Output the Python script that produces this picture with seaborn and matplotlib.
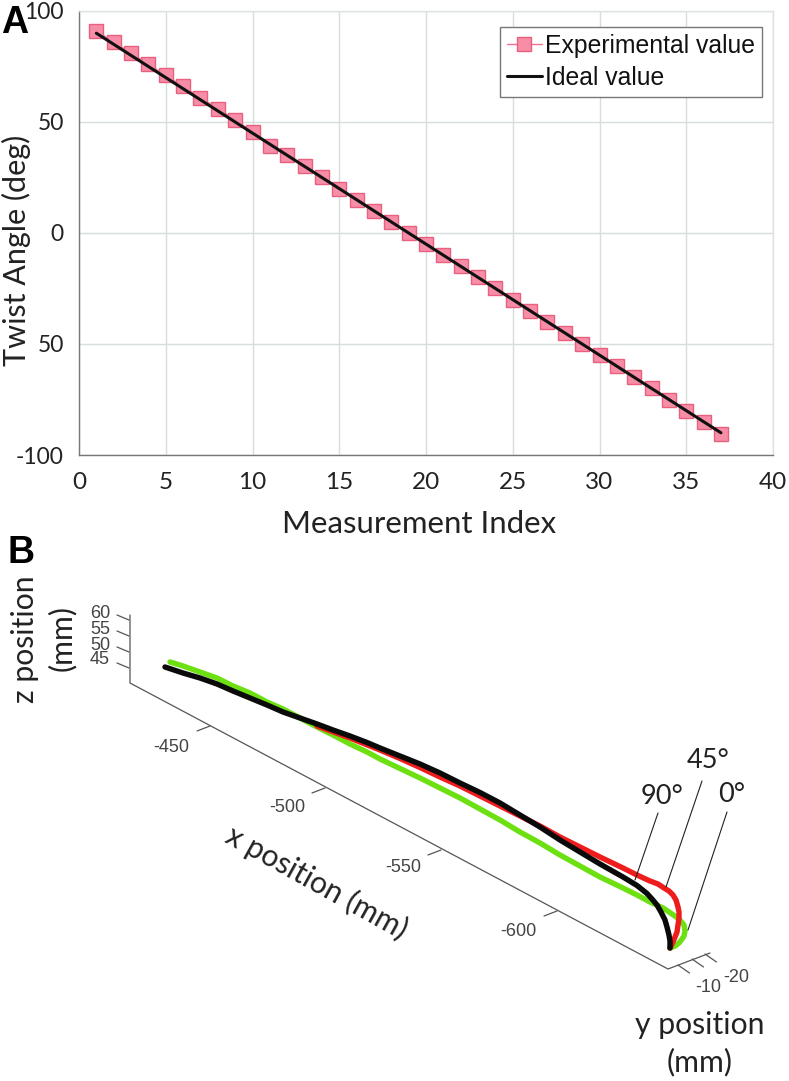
import matplotlib
matplotlib.use('Agg')
import matplotlib.pyplot as plt
import seaborn as sns

W, H = 789, 1081

# panel A values
index = list(range(1, 38))
experimental = [91, 86, 81, 76, 71, 66, 61, 56, 51, 45.5, 39, 35, 30, 25, 20, 15, 10, 5, 0,
                -5, -10, -15, -20, -25, -30, -35, -40, -45, -50, -55, -60, -65, -70, -75, -80, -85, -90.5]
ideal = [90, 85, 80, 75, 70, 65, 60, 55, 50, 45, 40, 35, 30, 25, 20, 15, 10, 5, 0,
         -5, -10, -15, -20, -25, -30, -35, -40, -45, -50, -55, -60, -65, -70, -75, -80, -85, -90]
x_ticks = [0, 5, 10, 15, 20, 25, 30, 35, 40]
y_ticks = [-100, -50, 0, 50, 100]
y_labels = ['-100', '50', '0', '50', '100']  # the reference prints 50 without a minus

# panel B curves (image pixels)
green_x = [170, 183, 200, 217, 233, 250, 267, 283, 300, 317, 333, 350, 367, 380, 400, 420, 440, 460, 480,
           500, 520, 540, 560, 580, 600, 623, 637, 650, 663, 672, 679, 684, 685, 684, 682, 679, 675, 670]
green_y = [662, 666, 672, 678, 686, 693, 702, 709, 718, 727, 735, 744, 752, 759, 768.5, 778, 788, 798, 809,
           820, 832, 843, 855, 866, 877, 888, 895, 902, 908, 914, 919, 925, 931, 936, 939, 943, 946, 948]
red_x = [317, 350, 380, 400, 420, 440, 460, 480, 500, 520, 540, 560, 580, 600, 623, 637, 650, 658, 664, 669, 673,
         676, 678, 679, 679, 677, 675, 673, 670]
red_y = [726, 738, 750, 758.5, 767.5, 777, 786, 796, 806, 816, 826, 837, 847, 857, 868, 875, 881, 884, 888, 891, 895,
         900, 907, 912, 918, 932, 937, 942, 948]
black_x = [165, 183, 200, 217, 233, 250, 267, 283, 300, 317, 333, 350, 367, 380, 400, 420, 440, 460, 480,
           500, 520, 540, 560, 580, 600, 623, 637, 647, 652, 657, 661, 665, 667, 669, 670, 670]
black_y = [667, 673, 678, 684, 691, 698, 705, 712, 718, 724, 730, 736, 742.5, 748, 756, 764, 773, 783, 792.5,
           803, 815, 827, 840, 852, 864, 877, 885.5, 893.5, 899, 905, 912, 920, 927, 935, 941, 948]

z_tick_labels = ['60', '55', '50', '45']
x3_tick_labels = ['-450', '-500', '-550', '-600']
y3_tick_labels = ['-10', '-20']

sns.set_theme(style='whitegrid')
plt.rcParams['font.family'] = ['Lato', 'DejaVu Sans']

fig = plt.figure(figsize=(W / 100, H / 100), dpi=100)


def px_rect(l, t, r, b):
    return [l / W, 1 - b / H, (r - l) / W, (b - t) / H]


# ---- panel A ----
ax = fig.add_axes(px_rect(79, 11, 773, 455))
sns.lineplot(x=index, y=experimental, ax=ax, color='#F0708F', marker='s', markersize=9.5,
             markerfacecolor='#F78DA7', markeredgecolor='#E9607F', markeredgewidth=1,
             linewidth=1, label='Experimental value')
sns.lineplot(x=index, y=ideal, ax=ax, color='#111111', linewidth=2.2, label='Ideal value')
ax.set_xlim(0, 40)
ax.set_ylim(-100, 100)
ax.set_xticks(x_ticks)
ax.set_yticks(y_ticks)
ax.set_yticklabels(y_labels)
ax.grid(True, color='#D6DEDC', linewidth=1)
ax.tick_params(axis='x', labelsize=17.5, labelcolor='#222222', pad=6)
ax.tick_params(axis='y', labelsize=16.5, labelcolor='#222222', pad=5)
ax.set_xlabel('Measurement Index', fontsize=22.4, color='#222222')
ax.set_ylabel('Twist Angle (deg)', fontsize=22, color='#222222')
ax.xaxis.set_label_coords((419 - 79) / 694, -(524 - 455) / 444, transform=ax.transAxes)
ax.yaxis.set_label_coords((16 - 79) / 694, (455 - 250) / 444, transform=ax.transAxes)
ax.xaxis.label.set_va('center')
ax.yaxis.label.set_va('center')
for side in ['left', 'bottom']:
    ax.spines[side].set_color('#777777')
    ax.spines[side].set_linewidth(1)
for side in ['top', 'right']:
    ax.spines[side].set_color('#DDE3E1')
    ax.spines[side].set_linewidth(1)
leg = ax.legend(loc='upper left', bbox_to_anchor=((500 - 79) / 694, 1 - (27 - 11) / 444), borderaxespad=0,
                prop={'family': 'Liberation Sans', 'size': 17.8}, fancybox=False, framealpha=1,
                edgecolor='#777777', handlelength=1.42, handletextpad=0.15, labelspacing=0.34,
                borderpad=0.27, labelcolor='#111111')
leg.get_frame().set_linewidth(1)

# ---- panel B, drawn on an axes in image pixel units ----
bx = fig.add_axes(px_rect(0, 530, W, H))
bx.set_xlim(0, W)
bx.set_ylim(H, 530)
bx.axis('off')
bx.patch.set_alpha(0)

axis_col = '#555555'
# box edges
bx.plot([130, 130, 668, 710], [615, 683, 969, 953], color=axis_col, lw=0.9)
# z ticks
for yy in [620, 636, 652, 668]:
    bx.plot([117, 129], [yy - 5, yy], color=axis_col, lw=0.9)
# x ticks
for x0, y0 in [(210, 726), (325, 788), (441, 850), (557, 911)]:
    bx.plot([x0, x0 - 13], [y0, y0 + 5], color=axis_col, lw=0.9)
# y ticks
for x0, y0 in [(678, 965), (692, 959), (705, 954)]:
    bx.plot([x0, x0 + 11.5], [y0, y0 + 8], color=axis_col, lw=0.9)

for xs, ys, col in [(green_x, green_y, '#6CE010'), (red_x, red_y, '#EE1C1C'), (black_x, black_y, '#0A0A0A')]:
    sns.lineplot(x=xs, y=ys, ax=bx, sort=False, estimator=None, color=col, linewidth=3.9,
                 solid_capstyle='round', solid_joinstyle='round', legend=False)
bx.set_xlim(0, W)
bx.set_ylim(H, 530)

# leader lines
for xs, ys in [([658, 635], [813, 880]), ([702, 666], [781, 887]), ([727, 688], [812, 930])]:
    bx.plot(xs, ys, color='#222222', lw=0.8)

tick_font = dict(family='Liberation Sans', fontsize=13, color='#444444', ha='center', va='center')
for lab, yy in zip(z_tick_labels, [613, 629, 645, 660]):
    bx.text(110, yy, lab, **{**tick_font, 'ha': 'right'})
for lab, xx, yy in zip(x3_tick_labels, [171, 287, 403, 518], [747, 808, 868, 932]):
    bx.text(xx, yy, lab, **tick_font)
for lab, xx, yy in zip(y3_tick_labels, [708, 736], [988, 978]):
    bx.text(xx, yy, lab, **tick_font)

label_font = dict(fontsize=21.7, color='#222222', ha='center', va='center')
bx.text(25, 639, 'z position', rotation=90, **label_font)
bx.text(62, 638, '(mm)', rotation=90, **label_font)
bx.text(317, 882, 'x position (mm)', rotation=-29, rotation_mode='anchor', **label_font)
bx.text(700, 1025, 'y position', **label_font)
bx.text(700, 1062, '(mm)', **label_font)
mark_font = {**label_font, 'fontsize': 19.5}
bx.text(662, 796, '90°', **mark_font)
bx.text(708, 760, '45°', **mark_font)
bx.text(732, 795, '0°', **mark_font)

# panel letters
fig.text(1 / W, 1 - 33 / H, 'A', family='Liberation Sans', fontweight='bold', fontsize=27, color='black')
fig.text(7 / W, 1 - 563 / H, 'B', family='Liberation Sans', fontweight='bold', fontsize=27, color='black')

fig.savefig('out.png', dpi=100)
